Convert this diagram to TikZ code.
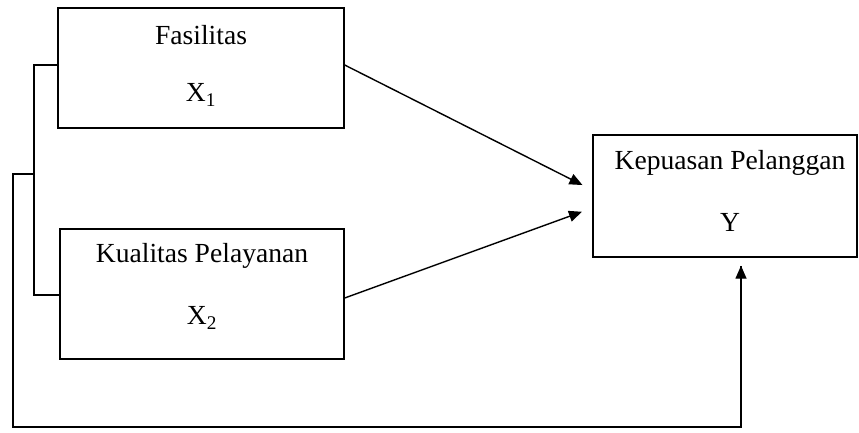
\documentclass[tikz,border=0pt]{standalone}
\usepackage{fontspec}
\setmainfont{Liberation Serif}
\usetikzlibrary{arrows.meta}
\begin{document}
\begin{tikzpicture}[x=1pt,y=-1pt,
  box/.style={draw,line width=1.4pt,rectangle,inner sep=0pt},
  lbl/.style={inner sep=0pt,font=\fontsize{27.6}{33}\selectfont},
  line/.style={line width=1.4pt},
  arr/.style={line width=1.4pt,-{Triangle[length=13pt,width=11pt]}}]
\useasboundingbox (0,0) rectangle (859,433);
% boxes
\node[box,minimum width=286pt,minimum height=120pt] (fas) at (201,68) {};
\node[box,minimum width=284pt,minimum height=130pt] (kual) at (202,294) {};
\node[box,minimum width=264pt,minimum height=122pt] (kep) at (725,196) {};
% texts
\node[lbl] (t1) at (201,35) {Fasilitas};
\node[lbl] (t2) at (201,95) {X\textsubscript{1}};
\node[lbl] (t3) at (202,256) {Kualitas Pelayanan};
\node[lbl] (t4) at (202,318) {X\textsubscript{2}};
\node[lbl] (t5) at (730,163) {Kepuasan Pelanggan};
\node[lbl] (t6) at (730,222) {Y};
% bracket
\coordinate (bl) at (34,174);
\coordinate (ol) at (13,174);
\coordinate (ob) at (13,427);
\draw[line] ([yshift=3pt]fas.west) -| (bl) |- ([yshift=-1pt]kual.west);
\draw[line] (bl) -- (ol) -- (ob) -| ([xshift=16pt,yshift=-8pt]kep.south);
\draw[arr] (ob) -| ([xshift=16pt,yshift=-8pt]kep.south);
% arrows
\draw[arr,shorten >=11pt] ([yshift=3pt]fas.east) -- ([yshift=6pt]kep.west);
\draw[arr,shorten >=11pt] ([yshift=-4pt]kual.east) -- ([yshift=-12pt]kep.west);
\end{tikzpicture}
\end{document}
